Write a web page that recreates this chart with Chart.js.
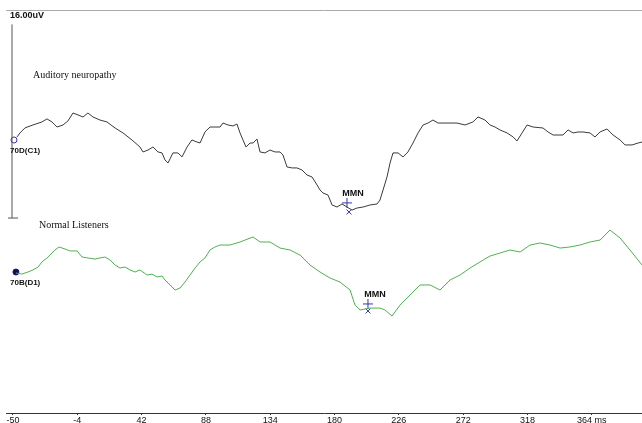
<!DOCTYPE html>
<html>
<head>
<meta charset="utf-8">
<script src="https://cdn.jsdelivr.net/npm/chart.js@4.4.0/dist/chart.umd.min.js"></script>
<style>
  html, body { margin: 0; padding: 0; background: #fff; }
  #wrap { width: 642px; height: 423px; }
</style>
</head>
<body>
<div id="wrap"><canvas id="erp"></canvas></div>
<script>
// time axis (ms)
const tickVals = [-50, -4, 42, 88, 134, 180, 226, 272, 318, 364];
const tickLabels = ['-50', '-4', '42', '88', '134', '180', '226', '272', '318', '364 ms'];

// channel 70D(C1) - auditory neuropathy, amplitude in uV around its baseline
const timesC1 = [
  -47.1, -45.0, -41.4, -35.7, -29.3, -25.7, -22.1, -18.5, -14.2, -10.7,
  -7.1, -3.5, 0.1, 3.6, 7.2, 12.2, 17.2, 23.0, 28.7, 35.1,
  40.8, 43.0, 46.6, 50.1, 53.7, 56.6, 58.7, 60.9, 64.4, 68.0,
  70.9, 74.5, 78.0, 81.6, 83.8, 87.3, 90.9, 94.5, 98.1, 100.2,
  103.8, 107.4, 110.2, 112.4, 114.5, 116.7, 119.5, 121.7, 124.5, 126.7,
  130.3, 133.8, 137.4, 141.0, 143.1, 146.0, 149.6, 153.1, 156.7, 160.3,
  163.9, 167.5, 169.6, 171.7, 175.3, 178.2, 181.8, 185.3, 188.9, 192.5,
  196.1, 200.4, 205.4, 210.4, 212.5, 214.7, 217.5, 219.7, 221.8, 225.4,
  229.0, 232.5, 236.1, 239.7, 243.3, 246.8, 250.4, 254.0, 260.4, 267.6,
  273.3, 279.0, 282.6, 287.6, 291.2, 294.8, 298.3, 303.4, 307.7, 310.5,
  314.1, 317.7, 322.0, 329.1, 332.7, 336.3, 343.4, 347.0, 350.6, 354.1,
  357.7, 362.7, 366.3, 369.9, 374.9, 379.2, 384.2, 387.8, 392.8, 397.1,
  399.9
];
const ampC1 = [
  0.25, 0.58, 1.0, 1.24, 1.49, 1.74, 1.49, 1.07, 1.24, 1.57,
  2.23, 2.07, 1.90, 2.23, 1.90, 1.65, 1.49, 0.99, 0.58, 0,
  -0.58, -0.99, -0.83, -0.58, -0.99, -1.07, -1.65, -1.90, -1.07, -1.07,
  -1.40, -0.58, 0, -0.17, -0.25, 0.66, 1.07, 1.07, 1.07, 1.40,
  1.24, 1.16, 1.32, 0.58, 0, -0.58, -0.25, -0.25, 0.08, -0.99,
  -1.07, -0.83, -0.99, -0.99, -1.24, -2.23, -2.31, -2.31, -2.48, -2.89,
  -3.06, -3.72, -4.13, -4.38, -4.55, -5.37, -5.54, -5.29, -5.54, -5.79,
  -5.62, -5.54, -5.37, -5.29, -4.96, -4.13, -3.06, -1.90, -1.07, -1.07,
  -1.40, -0.99, -0.25, 0.58, 1.24, 1.40, 1.65, 1.40, 1.40, 1.40,
  1.24, 1.49, 1.90, 1.65, 1.24, 1.07, 0.83, 0.58, 0.25, -0.08,
  0.58, 1.24, 1.07, 0.99, 0.66, 0.41, 0.41, 0.83, 0.58, 0.66,
  0.66, 0.58, 0.25, 0.66, 0.91, 0.41, 0, -0.41, -0.41, -0.25,
  -0.17
];

// channel 70B(D1) - normal listeners
const timesD1 = [
  -47.9, -43.6, -39.3, -35.7, -32.1, -29.3, -25.7, -22.1, -20.0, -17.1,
  -12.8, -9.2, -4.2, -0.6, 3.6, 8.7, 12.2, 15.8, 19.4, 23.0,
  26.5, 30.1, 33.7, 37.3, 40.8, 45.9, 49.4, 53.0, 56.6, 58.7,
  62.3, 65.9, 69.5, 73.0, 76.6, 80.2, 83.8, 87.3, 90.9, 94.5,
  98.1, 105.2, 112.4, 116.0, 121.7, 126.7, 133.8, 141.0, 148.1, 155.3,
  162.4, 169.6, 176.8, 183.9, 191.1, 194.6, 198.2, 205.4, 212.5, 216.1,
  221.1, 226.8, 234.0, 241.1, 248.3, 255.4, 262.6, 269.7, 276.9, 284.0,
  291.2, 298.3, 305.5, 312.7, 319.8, 327.0, 334.1, 341.3, 348.4, 355.6,
  362.7, 369.9, 377.0, 384.2, 391.3, 399.9
];
const ampD1 = [
  -0.08, -0.17, 0, 0.17, 0.41, 0.83, 1.16, 1.57, 1.82, 2.07,
  1.90, 1.74, 1.74, 1.24, 1.16, 1.07, 1.16, 1.24, 0.99, 0.58,
  0.33, 0.41, 0.17, 0, 0.17, -0.25, -0.17, -0.41, -0.33, -0.66,
  -1.07, -1.49, -1.32, -0.83, -0.25, 0.33, 0.83, 1.16, 1.82, 2.07,
  2.23, 2.23, 2.48, 2.64, 2.89, 2.48, 2.48, 1.98, 1.82, 1.40,
  0.58, 0, -0.50, -0.83, -1.49, -2.73, -3.14, -2.98, -2.98, -3.14,
  -3.64, -2.73, -1.90, -1.07, -1.07, -1.49, -0.66, -0.25, 0.33, 0.83,
  1.32, 1.57, 1.82, 1.65, 2.23, 2.40, 2.23, 1.98, 2.07, 2.23,
  2.48, 2.64, 3.47, 2.81, 1.82, 0.58
];

// baselines of the two channels on the shared uV axis
const offsetC1 = 0;
const offsetD1 = -10.91;

// MMN peak picks [ms, uV relative to own channel]
const mmnC1 = [188.9, -5.2];
const mmnC1low = [190.3, -5.95];
const mmnD1 = [203.9, -2.64];
const mmnD1low = [203.9, -3.22];

// calibration bar: 16 uV
const calTime = -50.7;
const calBottom = -6.45;
const calSize = 16;

const labels = [
  { text: '16.00uV', x: -52.1, y: 10.25, font: 'bold 9px "Liberation Sans", Arial', align: 'left' },
  { text: 'Auditory neuropathy', x: -35.7, y: 5.37, font: '10px "Liberation Serif", "Times New Roman"', align: 'left' },
  { text: '70D(C1)', x: -52.1, y: -0.91, font: 'bold 8px "Liberation Sans", Arial', align: 'left' },
  { text: 'MMN', x: 193.2, y: -4.46, font: 'bold 9px "Liberation Sans", Arial', align: 'center' },
  { text: 'Normal Listeners', x: -31.4, y: -7.02, font: '10px "Liberation Serif", "Times New Roman"', align: 'left' },
  { text: '70B(D1)', x: -52.1, y: -11.82, font: 'bold 8px "Liberation Sans", Arial', align: 'left' },
  { text: 'MMN', x: 208.9, y: -12.73, font: 'bold 9px "Liberation Sans", Arial', align: 'center' }
];

const toPts = (ts, vs, off) => ts.map((t, i) => ({ x: t, y: vs[i] + off }));
const pick = (p, off) => ({ x: p[0], y: p[1] + off });

const textPlugin = {
  id: 'erpText',
  afterDatasetsDraw(chart) {
    const ctx = chart.ctx;
    const xs = chart.scales.x, ys = chart.scales.y;
    ctx.save();
    ctx.fillStyle = '#111';
    ctx.textBaseline = 'middle';
    labels.forEach(l => {
      ctx.font = l.font;
      ctx.textAlign = l.align;
      ctx.fillText(l.text, xs.getPixelForValue(l.x), ys.getPixelForValue(l.y));
    });
    ctx.restore();
  }
};

const markerBlue = '#3535b5';

new Chart(document.getElementById('erp'), {
  type: 'line',
  data: {
    datasets: [
      {
        data: toPts(timesC1, ampC1, offsetC1),
        borderColor: '#3a3a3a', borderWidth: 1, pointRadius: 0, tension: 0
      },
      {
        data: toPts(timesD1, ampD1, offsetD1),
        borderColor: '#4fb24f', borderWidth: 1, pointRadius: 0, tension: 0
      },
      {
        // calibration bar
        data: [{ x: calTime, y: calBottom }, { x: calTime, y: calBottom + calSize }],
        borderColor: '#555', borderWidth: 1, pointRadius: 0
      },
      {
        data: [{ x: calTime - 2.9, y: calBottom }, { x: calTime + 4.3, y: calBottom }],
        borderColor: '#555', borderWidth: 1, pointRadius: 0
      },
      {
        // channel start markers
        data: [{ x: -49.3, y: offsetC1 }],
        showLine: false, pointStyle: 'circle', pointRadius: 3,
        pointBorderColor: markerBlue, pointBackgroundColor: '#fff', pointBorderWidth: 1
      },
      {
        data: [{ x: -47.9, y: offsetD1 }],
        showLine: false, pointStyle: 'circle', pointRadius: 3,
        pointBorderColor: '#1a1a70', pointBackgroundColor: '#10104a', pointBorderWidth: 1
      },
      {
        data: [pick(mmnC1, offsetC1), pick(mmnD1, offsetD1)],
        showLine: false, pointStyle: 'cross', pointRadius: 5,
        pointBorderColor: markerBlue, pointBorderWidth: 1
      },
      {
        data: [pick(mmnC1low, offsetC1), pick(mmnD1low, offsetD1)],
        showLine: false, pointStyle: 'crossRot', pointRadius: 3.5,
        pointBorderColor: markerBlue, pointBorderWidth: 1
      }
    ]
  },
  options: {
    responsive: true,
    maintainAspectRatio: false,
    animation: false,
    clip: false,
    layout: { padding: { top: 10, left: 6, right: 0, bottom: 0 }, autoPadding: false },
    plugins: { legend: { display: false }, tooltip: { enabled: false } },
    scales: {
      x: {
        type: 'linear', min: -55.0, max: 399.9,
        afterBuildTicks: s => { s.ticks = tickVals.map(v => ({ value: v })); },
        afterFit: s => { s.height = 10; },
        ticks: {
          autoSkip: false, maxRotation: 0, padding: 0, color: '#111',
          font: { family: '"Liberation Sans", Arial', size: 9 },
          callback: (v, i) => tickLabels[i]
        },
        grid: { drawOnChartArea: false, tickLength: 2, color: '#333' },
        border: { color: '#333', width: 1 }
      },
      xTop: {
        type: 'linear', position: 'top', min: -55.0, max: 399.9,
        afterFit: s => { s.height = 0; },
        ticks: { display: false },
        grid: { display: false },
        border: { color: '#aaa', width: 1 }
      },
      y: { type: 'linear', display: false, min: -22.56, max: 10.74 }
    }
  },
  plugins: [textPlugin]
});
</script>
</body>
</html>
